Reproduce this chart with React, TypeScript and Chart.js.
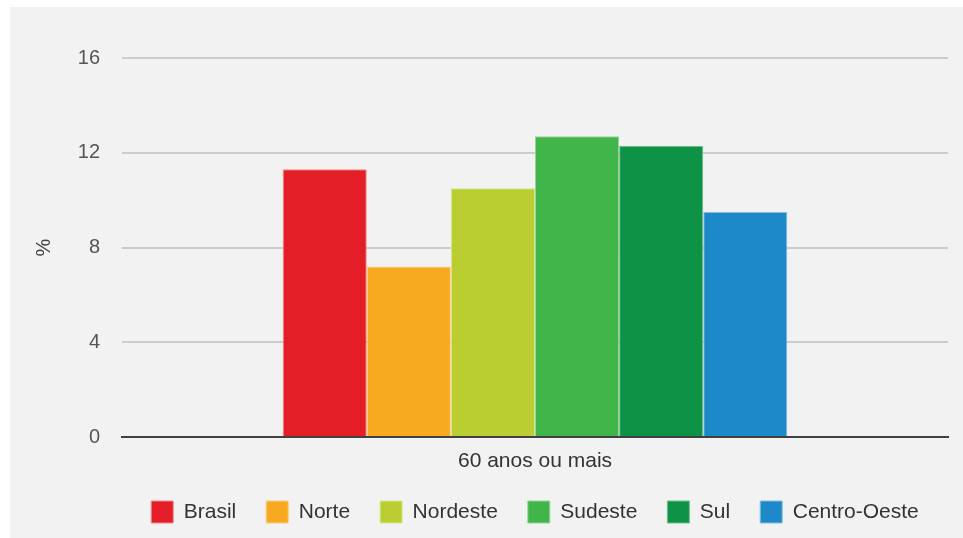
import React, { useEffect, useRef } from "react";
import { Chart, registerables } from "chart.js";

Chart.register(...registerables);

// Data
const categories: string[] = ["60 anos ou mais"];
const regions: string[] = ["Brasil", "Norte", "Nordeste", "Sudeste", "Sul", "Centro-Oeste"];
const values: number[] = [11.3, 7.2, 10.5, 12.7, 12.3, 9.5];
const yTicks: number[] = [0, 4, 8, 12, 16];
const yAxisLabel = "%";

// Styles
const fillColors = ["#e31e26", "#f7a91f", "#bace31", "#41b549", "#0d9246", "#1e89c9"];
const edgeColors = ["#ef8a8e", "#fbcd80", "#d9e68f", "#93d497", "#73bd8f", "#86bde2"];
const FONT = "'Liberation Sans', Arial, sans-serif";

const backgroundPlugin = {
  id: "panelBackground",
  beforeDraw(chart: Chart) {
    const { ctx, width, height } = chart;
    ctx.save();
    ctx.fillStyle = "#ffffff";
    ctx.fillRect(0, 0, width, height);
    ctx.fillStyle = "#f2f2f2";
    ctx.fillRect(10, 7, width - 10, height - 7);
    ctx.restore();
  },
};

// Rotated "%" axis caption, centred vertically on the plot area
const yTitlePlugin = {
  id: "yTitle",
  afterDraw(chart: Chart) {
    const { ctx, chartArea } = chart;
    ctx.save();
    ctx.translate(44, (chartArea.top + chartArea.bottom) / 2);
    ctx.rotate(-Math.PI / 2);
    ctx.font = `20px ${FONT}`;
    ctx.fillStyle = "#404040";
    ctx.textAlign = "center";
    ctx.textBaseline = "middle";
    ctx.fillText(yAxisLabel, 0, 0);
    ctx.restore();
  },
};

// Centre the legend row under the plot area rather than the whole canvas
const legendShiftPlugin = {
  id: "legendShift",
  afterLayout(chart: Chart) {
    const legend: any = (chart as any).legend;
    if (!legend) return;
    const { chartArea } = chart;
    legend.right = chart.width;
    legend.left = chartArea.left + chartArea.right - chart.width;
  },
};

export default function App() {
  const canvasRef = useRef<HTMLCanvasElement | null>(null);

  useEffect(() => {
    if (!canvasRef.current) return;
    const chart = new Chart(canvasRef.current, {
      type: "bar",
      data: {
        labels: categories,
        datasets: regions.map((name, i) => ({
          label: name,
          data: [values[i]],
          backgroundColor: fillColors[i],
          borderColor: edgeColors[i],
          borderWidth: 1,
          categoryPercentage: 0.611,
          barPercentage: 1.0,
        })),
      },
      options: {
        animation: false,
        responsive: false,
        devicePixelRatio: 1,
        layout: { padding: { left: 0, right: 15, top: 58, bottom: 5 } },
        plugins: {
          legend: {
            position: "bottom",
            labels: {
              boxWidth: 22,
              boxHeight: 22,
              padding: 30,
              color: "#333333",
              font: { family: FONT, size: 21 },
            },
          },
          tooltip: { enabled: false },
          title: { display: false },
        },
        scales: {
          x: {
            grid: { display: false, drawTicks: false },
            border: { display: true, color: "#404040", width: 2 },
            ticks: {
              color: "#333333",
              padding: 12,
              font: { family: FONT, size: 21 },
            },
            afterFit(scale: any) {
              scale.height = 34;
            },
          },
          y: {
            min: 0,
            max: 16,
            afterBuildTicks(scale: any) {
              scale.ticks = yTicks.map((v) => ({ value: v }));
            },
            grid: {
              drawTicks: false,
              lineWidth: 2,
              color: (c: any) => (c.tick && c.tick.value === 0 ? "rgba(0,0,0,0)" : "#cccccc"),
            },
            border: { display: false },
            ticks: {
              color: "#555555",
              padding: 22,
              font: { family: FONT, size: 20 },
            },
            afterFit(scale: any) {
              scale.width = 122;
            },
          },
        },
      },
      plugins: [backgroundPlugin, legendShiftPlugin, yTitlePlugin],
    });
    return () => chart.destroy();
  }, []);

  return (
    <div style={{ position: "absolute", left: 0, top: 0, width: 963, height: 538 }}>
      <canvas ref={canvasRef} width={963} height={538} style={{ display: "block" }} />
    </div>
  );
}
